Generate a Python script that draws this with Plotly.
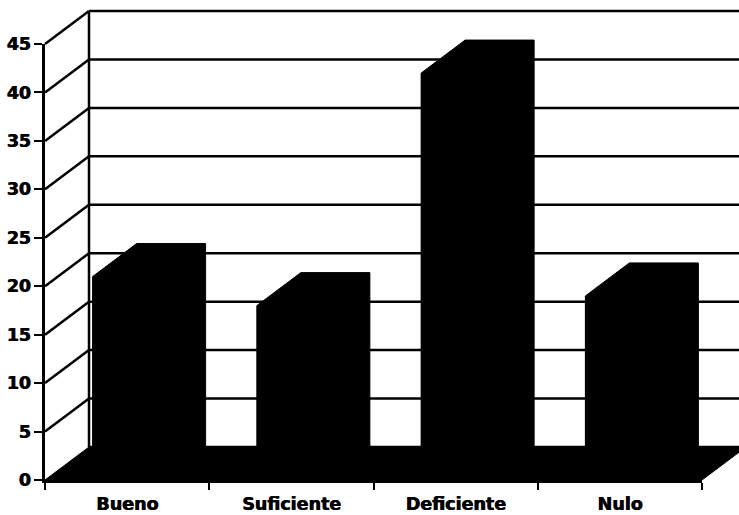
import plotly.graph_objects as go

# Data
categories = ["Bueno", "Suficiente", "Deficiente", "Nulo"]
values = [21, 18, 42, 19]
y_ticks = [0, 5, 10, 15, 20, 25, 30, 35, 40, 45]

# Page layout (pixels)
W, H = 739, 515
ORIGIN_X, ORIGIN_Y = 45, 480      # front axes corner
TOP_Y = 44                        # pixel row of 45 on the front axis
RIGHT_X = 702                     # right end of the front category axis
DEPTH_PX_X, DEPTH_PX_Y = 44, 33   # oblique offset of the back wall
Y_MAX = 45
BAR_W = 0.42

px_per_x = (RIGHT_X - ORIGIN_X) / len(categories)
px_per_y = (ORIGIN_Y - TOP_Y) / Y_MAX
DX = DEPTH_PX_X / px_per_x
DY = DEPTH_PX_Y / px_per_y
X_LO, X_HI = -0.5, len(categories) - 0.5

fig = go.Figure()

# Back wall grid, left side wall diagonals and wall edges (full-page axes)
gx, gy = [], []
for v in y_ticks:
    gx += [X_LO + DX, X_HI + DX, None]
    gy += [v + DY, v + DY, None]
    if v > 0:
        gx += [X_LO, X_LO + DX, None]
        gy += [v, v + DY, None]
gx += [X_LO + DX, X_LO + DX, None]
gy += [DY, Y_MAX + DY, None]
fig.add_trace(go.Scatter(x=gx, y=gy, mode="lines",
                         line=dict(color="black", width=2.5),
                         hoverinfo="skip", showlegend=False))

# Floor slab
fig.add_trace(go.Scatter(
    x=[X_LO, X_HI, X_HI + DX, X_LO + DX, X_LO],
    y=[0, 0, DY, DY, 0],
    mode="lines", fill="toself", fillcolor="black",
    line=dict(color="black", width=1), hoverinfo="skip", showlegend=False))

# Full silhouette of each bar (front, top and side faces)
for i, v in enumerate(values):
    x0, x1 = i - BAR_W / 2, i + BAR_W / 2
    fig.add_trace(go.Scatter(
        x=[x0, x0, x0 + DX, x1 + DX, x1 + DX, x1, x0],
        y=[0, v, v + DY, v + DY, DY, 0, 0],
        mode="lines", fill="toself", fillcolor="black",
        line=dict(color="black", width=1), hoverinfo="skip", showlegend=False))

# Front faces of the bars on the front axes
fig.add_trace(go.Bar(x=categories, y=values, width=BAR_W,
                     marker=dict(color="black", line=dict(width=0)),
                     xaxis="x2", yaxis="y2", showlegend=False))

tick_font = dict(family="DejaVu Sans", size=17.5, color="black", weight="bold",
                 shadow="0.8px 0px 0px black")

fig.update_layout(
    template="none",
    width=W, height=H,
    margin=dict(l=0, r=0, t=0, b=0, pad=0),
    paper_bgcolor="white", plot_bgcolor="rgba(0,0,0,0)",
    showlegend=False,
    xaxis=dict(range=[X_LO - ORIGIN_X / px_per_x, X_LO + (W - ORIGIN_X) / px_per_x],
               visible=False, fixedrange=True, automargin=False),
    yaxis=dict(range=[-(H - ORIGIN_Y) / px_per_y, ORIGIN_Y / px_per_y],
               visible=False, fixedrange=True, automargin=False),
    xaxis2=dict(domain=[ORIGIN_X / W, RIGHT_X / W], anchor="y2",
                type="category", categoryorder="array", categoryarray=categories,
                range=[X_LO, X_HI], tickson="boundaries", automargin=False,
                showline=True, linecolor="black", linewidth=2.5,
                ticks="outside", ticklen=7, tickwidth=2, tickcolor="black",
                ticklabelstandoff=6,
                showgrid=False, zeroline=False, tickfont=tick_font),
    yaxis2=dict(domain=[1 - ORIGIN_Y / H, 1 - TOP_Y / H], anchor="x2",
                range=[0, Y_MAX], tickvals=y_ticks, automargin=False,
                showline=True, linecolor="black", linewidth=2.5,
                ticks="outside", ticklen=8, tickwidth=2, tickcolor="black",
                showgrid=False, zeroline=False, tickfont=tick_font),
)

fig.write_html("out.html")
